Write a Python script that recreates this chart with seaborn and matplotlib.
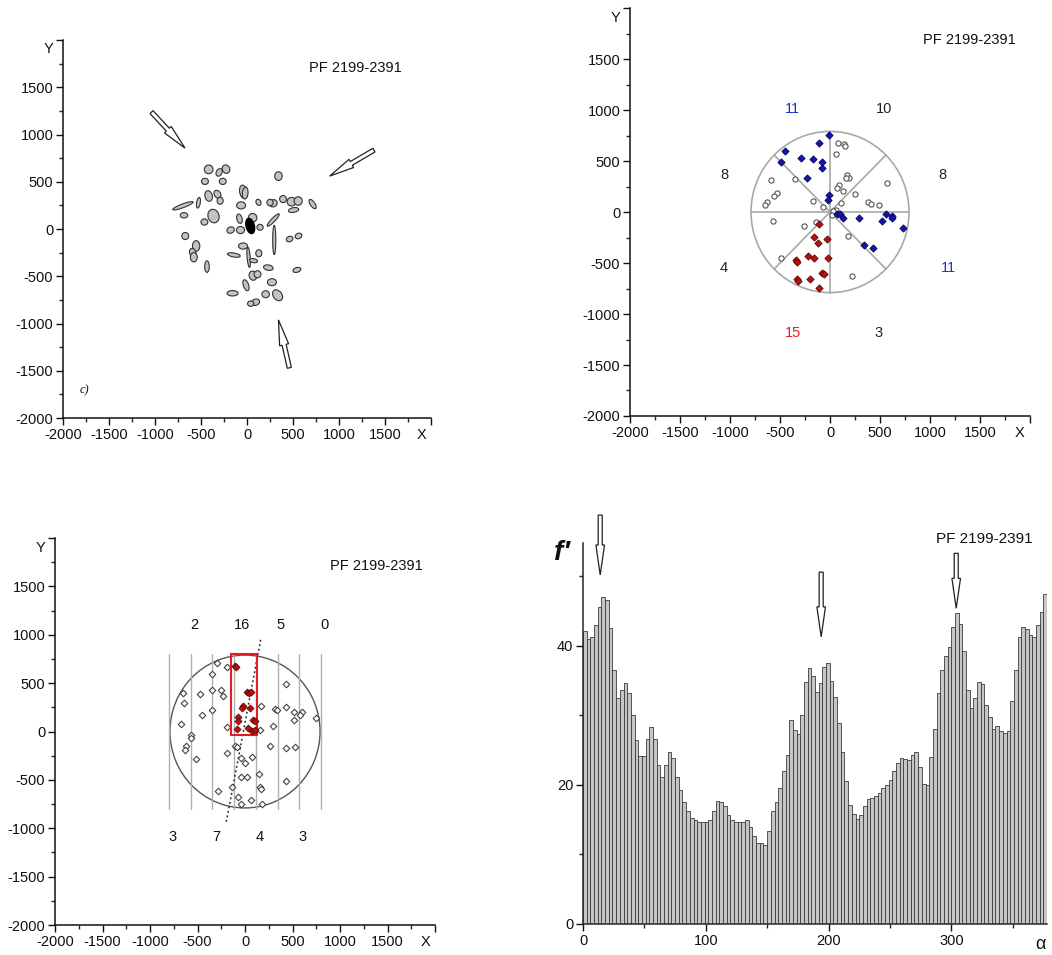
import numpy as np
import pandas as pd
import matplotlib
matplotlib.use("Agg")
import matplotlib.pyplot as plt
import matplotlib.patches as mpatches
import seaborn as sns

# ---------------- data ----------------
# Panel c): particle ellipses (centre x, centre y, width, height, angle)
ell_x = [-417, -303, -228, -457, -264, 342, -417, -321, -292, -40, -20, -696, -528, -364, -463,
         -685, -64, -82, 61, 142, -178, -71, 125, 285, 250, 392, 485, 556, 506, 713, 285, 296,
         463, 560, -671, -553, -590, -578, -435, -143, -43, 18, 71, 128, 232, 542, 64, 114,
         -11, 271, -157, 203, 332, 93, 40]
ell_y = [631, 599, 634, 504, 504, 560, 349, 367, 299, 394, 380, 246, 278, 137, 74,
         145, 250, 109, 119, 18, -11, -11, 282, 272, 280, 317, 289, 296, 201, 264, 95, -116,
         -106, -74, -74, -180, -250, -299, -398, -275, -180, -299, -335, -257, -409, -433, -494, -479,
         -595, -563, -680, -690, -701, -775, -790]
ell_w = [95, 62, 80, 75, 75, 82, 80, 68, 66, 80, 62, 235, 40, 120, 75,
         82, 98, 57, 92, 68, 82, 88, 52, 88, 68, 75, 98, 88, 112, 50, 180, 34,
         75, 75, 75, 80, 68, 75, 50, 140, 98, 34, 88, 66, 105, 88, 82, 75,
         57, 98, 120, 82, 92, 90, 68]
ell_h = [92, 85, 92, 66, 66, 92, 114, 92, 75, 142, 125, 40, 114, 146, 66,
         57, 75, 102, 92, 63, 66, 75, 68, 75, 68, 75, 90, 90, 50, 114, 40, 310,
         57, 57, 75, 114, 92, 98, 122, 42, 66, 215, 42, 75, 57, 50, 98, 75,
         122, 75, 57, 75, 130, 66, 57]
ell_ang = [0, -30, 30, 0, 0, 0, 15, 35, 0, 10, -5, 20, -10, 20, 0,
           0, 0, 15, 0, 0, 20, 0, 30, 20, 0, 0, 0, 0, 10, 35, 45, 0,
           20, 20, 0, 0, 20, 0, 0, -10, 0, 5, -10, 0, -10, 15, 20, 0,
           20, 0, 0, 0, 40, 20, 0]
blob = (35, 32, 90, 165, 15)
tl_arrows = [(-1038, 1237, -674, 856), (1380, 835, 899, 560), (460, -1469, 342, -962)]

# Panel b): sector diagram points
tr_blue_x = [-7, -107, -450, -493, -290, -167, -83, -83, -233, -10, -23,
             67, 100, 133, 290, 556, 523, 616, 616, 733, 340, 433]
tr_blue_y = [754, 679, 598, 494, 527, 520, 488, 429, 332, 169, 120,
             -20, -20, -59, -59, -20, -91, -42, -59, -156, -328, -351]
tr_red_x = [-110, -157, -123, -33, -217, -157, -23, -340, -330, -77, -57, -333, -317, -200, -107]
tr_red_y = [-117, -247, -302, -260, -432, -449, -449, -475, -488, -595, -605, -660, -676, -660, -741]
tr_open_x = [83, 143, 150, 57, 167, 190, 160, 90, 73, 133,
             573, 250, 376, 406, 489, 110, 57, 33,
             -590, -350, -533, -560, -633, -650, -167, -67,
             -566, -260, -143, -490,
             183, 216, 17]
tr_open_y = [673, 663, 650, 566, 364, 338, 338, 260, 234, 208,
             283, 176, 98, 78, 72, 88, 23, 7,
             315, 322, 185, 153, 98, 65, 104, 46,
             -85, -133, -98, -455,
             -237, -627, -26]
sector_counts = ["11", "10", "8", "8", "4", "11", "15", "3"]
sector_lab_x = [-380, 540, -1060, 1120, -1060, 1180, -370, 490]
sector_lab_y = [1010, 1010, 367, 367, -550, -550, -1184, -1184]
sector_colors = ["#1f2fd0", "#222222", "#222222", "#222222", "#222222", "#1f2fd0", "#e02020", "#222222"]

# Panel (bottom-left): strip diagram points
bl_open_x = [-292, -187, -351, -656, -473, -351, -257, -232, -641, -449, -344, -676, -571, -564,
             -623, -634, -512, -194, -107, -82, -194, -47, 5, 75, -47, 23, 145, -141, 156, 173,
             -285, 65, -47, 180, -72, 435, 268, 435, 529, 319, 337, 435, 518, 599, 581, 518,
             750, 295, 170, 431, 163]
bl_open_y = [708, 663, 594, 403, 388, 433, 433, 370, 291, 174, 222, 78, -33, -68,
             -147, -188, -285, 43, -147, -157, -223, -274, -330, -261, -474, -474, -434, -571, -577, -595,
             -619, -706, -744, -744, -675, -508, -147, -171, -157, 232, 222, 257, 198, 198, 174, 119,
             139, 60, 267, 491, 16]
bl_red_x = [-110, -99, 16, 40, 58, -20, -29, 51, -72, -72, 85, 100, -82, 29, 75, 110]
bl_red_y = [680, 663, 404, 394, 404, 267, 243, 243, 146, 112, 123, 105, 25, 36, 9, 18]
strip_top_counts = ["2", "16", "5", "0"]
strip_top_x = [-537, -35, 379, 832]
strip_bot_counts = ["3", "7", "4", "3"]
strip_bot_x = [-765, -305, 151, 607]

# Panel (bottom-right): histogram f'(alpha), 3-degree bins
f_values = [42.1, 41.0, 41.3, 43.0, 45.6, 47.0, 46.6, 42.5, 36.5, 32.5,
            33.7, 34.6, 33.2, 30.1, 26.4, 24.1, 24.1, 26.6, 28.3, 26.6,
            22.9, 21.1, 22.9, 24.8, 23.8, 21.2, 19.3, 17.6, 16.2, 15.2,
            15.0, 14.7, 14.7, 14.6, 15.0, 16.2, 17.7, 17.6, 16.9, 15.6,
            15.0, 14.7, 14.7, 14.7, 15.0, 13.9, 12.6, 11.6, 11.7, 11.4,
            13.3, 16.3, 17.6, 19.5, 22.0, 24.3, 29.3, 27.9, 27.3, 30.1,
            34.8, 36.8, 35.6, 33.4, 34.6, 36.9, 37.6, 34.9, 32.7, 28.9,
            24.8, 20.5, 17.1, 15.8, 15.1, 15.7, 16.9, 17.9, 18.1, 18.4,
            18.9, 19.5, 20.0, 20.7, 22.0, 23.2, 23.9, 23.7, 23.6, 24.3,
            24.7, 22.6, 20.2, 20.0, 24.0, 28.1, 33.2, 36.5, 38.5, 39.9,
            42.7, 44.7, 43.2, 39.2, 33.7, 31.0, 32.5, 34.8, 34.5, 31.5,
            29.8, 28.1, 28.4, 27.8, 27.4, 27.8, 32.1, 36.5, 41.3, 42.7,
            42.4, 41.5, 41.3, 43.0, 44.9, 47.5]
bin_width = 3
hist_arrow_alpha = [14, 194, 304]
hist_arrow_top = [58.8, 50.6, 53.3]
hist_arrow_tip = [50.2, 41.3, 45.4]

title_text = "PF 2199-2391"

# ---------------- style ----------------
sns.set_theme(style="ticks")
plt.rcParams["font.family"] = ["Liberation Sans", "DejaVu Sans"]
plt.rcParams["axes.linewidth"] = 1.1

fig = plt.figure(figsize=(10.52, 9.55), dpi=100)
ax_tl = fig.add_axes([0.0599, 0.5623, 0.3498, 0.3958])
ax_tr = fig.add_axes([0.5989, 0.5644, 0.3802, 0.4272])
ax_bl = fig.add_axes([0.0523, 0.0314, 0.3612, 0.4052])
ax_br = fig.add_axes([0.5542, 0.0325, 0.4411, 0.3990])

TXT = "#111111"


def style_xy(ax):
    ax.set_xlim(-2000, 2000)
    ax.set_ylim(-2000, 2000)
    ticks = np.arange(-2000, 2001, 500)
    ax.set_xticks(ticks)
    ax.set_xticklabels([str(t) for t in ticks[:-1]] + [""])
    ax.set_yticks(ticks)
    ax.set_yticklabels([str(t) for t in ticks[:-1]] + [""])
    ax.set_xticks(np.arange(-1750, 2000, 500), minor=True)
    ax.set_yticks(np.arange(-1750, 2000, 500), minor=True)
    ax.tick_params(which="major", direction="out", length=5, width=1.0, labelsize=10.5,
                   pad=2, colors=TXT)
    ax.tick_params(which="minor", direction="out", length=3, width=1.0)
    for s in ["top", "right"]:
        ax.spines[s].set_visible(False)
    for s in ["left", "bottom"]:
        ax.spines[s].set_color("#111111")
    ax.set_xlabel("")
    ax.set_ylabel("")
    ax.set_facecolor("white")
    ax.annotate("X", xy=(1900, -2000), xytext=(0, -7), textcoords="offset points",
                ha="center", va="top", fontsize=10.5, color=TXT, annotation_clip=False)
    ax.annotate("Y", xy=(-2000, 1900), xytext=(-7, 0), textcoords="offset points",
                ha="right", va="center", fontsize=10.5, color=TXT, annotation_clip=False)


def hollow_arrow(ax, x0, y0, x1, y1, width, head_width, head_length, clip=True):
    arr = mpatches.FancyArrow(x0, y0, x1 - x0, y1 - y0, width=width, head_width=head_width,
                              head_length=head_length, length_includes_head=True,
                              facecolor="white", edgecolor="#222222", linewidth=0.9,
                              clip_on=clip, zorder=5)
    ax.add_patch(arr)


# ---- top-left: ellipses ----
style_xy(ax_tl)
for x, y, w, h, a in zip(ell_x, ell_y, ell_w, ell_h, ell_ang):
    ax_tl.add_patch(mpatches.Ellipse((x, y), w, h, angle=a, facecolor="#c2c2c2",
                                     edgecolor="#333333", linewidth=0.8))
bx, by, bw, bh, ba = blob
ax_tl.add_patch(mpatches.Ellipse((bx, by), bw, bh, angle=ba, facecolor="black", edgecolor="black"))
for x0, y0, x1, y1 in tl_arrows:
    hollow_arrow(ax_tl, x0, y0, x1, y1, width=45, head_width=100, head_length=270)
ax_tl.text(1177, 1702, title_text, ha="center", va="center", fontsize=10.5, color=TXT)
ax_tl.text(-1765, -1702, "c)", ha="center", va="center", fontsize=9, style="italic", color=TXT,
           family="Liberation Serif")

# ---- top-right: sectors ----
style_xy(ax_tr)
R = 790
ax_tr.add_patch(mpatches.Circle((0, 0), R, facecolor="none", edgecolor="#a8a8a8", linewidth=1.2))
for ang in range(0, 360, 45):
    t = np.deg2rad(ang)
    ax_tr.plot([0, R * np.cos(t)], [0, R * np.sin(t)], color="#a8a8a8", lw=1.2, zorder=1)
sns.scatterplot(x=tr_open_x, y=tr_open_y, ax=ax_tr, marker="o", s=14, facecolor="white",
                edgecolor="#555555", linewidth=0.8, zorder=3)
sns.scatterplot(x=tr_blue_x, y=tr_blue_y, ax=ax_tr, marker="D", s=14, color="#1414a8",
                edgecolor="#000050", linewidth=0.5, zorder=3)
sns.scatterplot(x=tr_red_x, y=tr_red_y, ax=ax_tr, marker="D", s=14, color="#b81010",
                edgecolor="#500000", linewidth=0.5, zorder=3)
for lab, x, y, c in zip(sector_counts, sector_lab_x, sector_lab_y, sector_colors):
    ax_tr.text(x, y, lab, ha="center", va="center", fontsize=10.5, color=c)
ax_tr.text(1390, 1682, title_text, ha="center", va="center", fontsize=10.5, color=TXT)
ax_tr.set_xlabel("")
ax_tr.set_ylabel("")

# ---- bottom-left: strips ----
style_xy(ax_bl)
R2 = 790
ax_bl.add_patch(mpatches.Circle((0, 0), R2, facecolor="none", edgecolor="#555555", linewidth=1.0))
for k in range(8):
    xs = -800 + k * 1600 / 7
    ax_bl.plot([xs, xs], [-800, 800], color="#b0b0b0", lw=1.0, zorder=1)
ax_bl.add_patch(mpatches.Rectangle((-151, -34), 281, 837, facecolor="none", edgecolor="#e02020",
                                   linewidth=1.5, zorder=4))
ax_bl.plot([165, -200], [948, -948], color="#222222", lw=1.1, ls=(0, (1.2, 1.8)), zorder=2)
sns.scatterplot(x=bl_open_x, y=bl_open_y, ax=ax_bl, marker="D", s=11, facecolor="white",
                edgecolor="#444444", linewidth=0.8, zorder=3)
sns.scatterplot(x=bl_red_x, y=bl_red_y, ax=ax_bl, marker="D", s=13, color="#b81010",
                edgecolor="#500000", linewidth=0.5, zorder=5)
for lab, x in zip(strip_top_counts, strip_top_x):
    ax_bl.text(x, 1103, lab, ha="center", va="center", fontsize=10.5, color=TXT)
for lab, x in zip(strip_bot_counts, strip_bot_x):
    ax_bl.text(x, -1086, lab, ha="center", va="center", fontsize=10.5, color=TXT)
ax_bl.text(1386, 1707, title_text, ha="center", va="center", fontsize=10.5, color=TXT)
ax_bl.set_xlabel("")
ax_bl.set_ylabel("")

# ---- bottom-right: histogram ----
n = len(f_values)
hist_df = pd.DataFrame({"alpha": np.arange(n) * bin_width + bin_width / 2, "f": f_values})
sns.histplot(data=hist_df, x="alpha", weights="f", bins=n, binrange=(0, n * bin_width),
             ax=ax_br, color="#c6c6c6", edgecolor="#3c3c3c", linewidth=0.6, alpha=1.0)
ax_br.set_xlim(0, n * bin_width)
ax_br.set_ylim(0, 54.8)
ax_br.set_xticks([0, 100, 200, 300])
ax_br.set_xticks([50, 150, 250, 350], minor=True)
ax_br.set_yticks([0, 20, 40])
ax_br.set_yticks([10, 30, 50], minor=True)
ax_br.tick_params(which="major", direction="out", length=5, width=1.0, labelsize=10.5, pad=2,
                  colors=TXT)
ax_br.tick_params(which="minor", direction="out", length=3, width=1.0)
for s in ["top", "right"]:
    ax_br.spines[s].set_visible(False)
ax_br.set_xlabel("")
ax_br.set_ylabel("")
for a, y0, y1 in zip(hist_arrow_alpha, hist_arrow_top, hist_arrow_tip):
    hollow_arrow(ax_br, a, y0, a, y1, width=3.3, head_width=7.0, head_length=4.3, clip=False)
ax_br.text(327, 55.3, title_text, ha="center", va="center", fontsize=11, color=TXT, clip_on=False)
fig.text(0.534, 0.421, "f\u2032", fontsize=20, fontweight="bold", style="italic", color=TXT,
         ha="center", va="center")
fig.text(0.989, 0.011, "\u03b1", fontsize=13, color=TXT, ha="center", va="center")

fig.savefig("out.png", dpi=100, facecolor="white")
